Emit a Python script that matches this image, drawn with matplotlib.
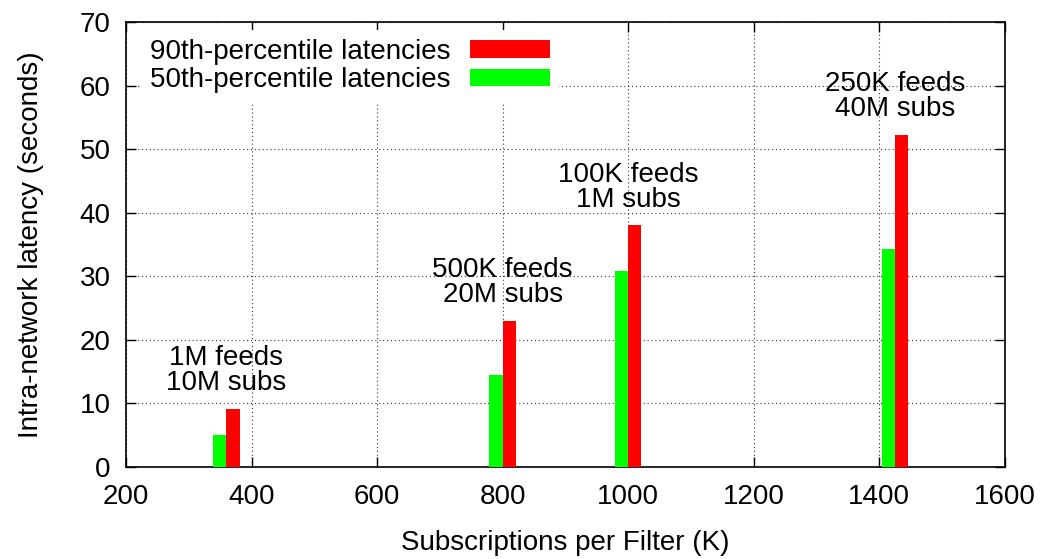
import matplotlib.pyplot as plt

plt.rcParams['font.family'] = ['Liberation Sans', 'DejaVu Sans']
plt.rcParams['font.size'] = 20

# Data
subs_per_filter = [360, 800, 1000, 1425]
p50 = [5.1, 14.4, 30.9, 34.3]
p90 = [9.2, 23.0, 38.0, 52.3]
labels = ['1M feeds\n10M subs', '500K feeds\n20M subs',
          '100K feeds\n1M subs', '250K feeds\n40M subs']

bar_w = 21

fig = plt.figure(figsize=(10.45, 5.59), dpi=100)
ax = fig.add_axes([0.1206, 0.1646, 0.841, 0.796])

ax.bar([x - bar_w / 2 for x in subs_per_filter], p50, width=bar_w,
       color='#00ff00', edgecolor='none', label='50th-percentile latencies', zorder=3)
ax.bar([x + bar_w / 2 for x in subs_per_filter], p90, width=bar_w,
       color='#ff0000', edgecolor='none', label='90th-percentile latencies', zorder=3)

for x, y, t in zip(subs_per_filter, p90, labels):
    ax.text(x, y + 6, t, ha='center', va='center', linespacing=0.95, zorder=4)

ax.set_xlim(200, 1600)
ax.set_ylim(0, 70)
ax.set_xticks(range(200, 1601, 200))
ax.set_yticks(range(0, 71, 10))
ax.tick_params(direction='in', length=7, width=1, top=True, right=True)
ax.tick_params(axis='x', pad=12)
ax.tick_params(axis='y', pad=11)
ax.grid(True, color='black', linestyle=(0, (1, 2.5)), linewidth=0.8, alpha=0.8, zorder=0)
ax.set_axisbelow(True)
for s in ax.spines.values():
    s.set_linewidth(1.2)

ax.set_xlabel('Subscriptions per Filter (K)', labelpad=15)
ax.set_ylabel('Intra-network latency (seconds)', labelpad=26)

h, l = ax.get_legend_handles_labels()
leg = ax.legend(h[::-1], l[::-1], loc='upper left', bbox_to_anchor=(0.008, 1.0),
                markerfirst=False, handlelength=2.9, handleheight=0.58,
                labelspacing=0.1, handletextpad=0.7, borderaxespad=0.3,
                borderpad=0.3, frameon=True, fancybox=False, framealpha=1,
                edgecolor='none', facecolor='white')
leg.set_zorder(5)

fig.savefig('out.png', dpi=100)
